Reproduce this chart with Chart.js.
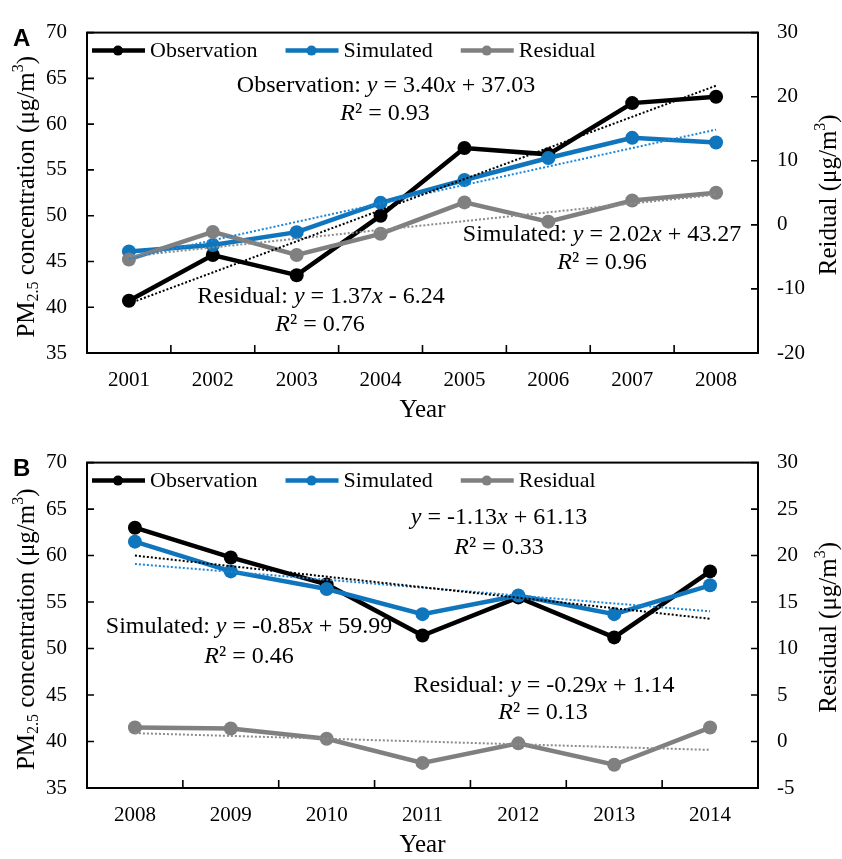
<!DOCTYPE html>
<html>
<head>
<meta charset="utf-8">
<script src="https://cdn.jsdelivr.net/npm/chart.js@4.4.1/dist/chart.umd.min.js"></script>
<style>
  html, body { margin: 0; padding: 0; background: #fff; }
  #wrap { position: relative; width: 842px; height: 859px; }
  canvas { position: absolute; left: 0; }
  #cA { top: 0; }
  #cB { top: 430px; }
</style>
</head>
<body>
<div id="wrap">
  <canvas id="cA" width="842" height="430"></canvas>
  <canvas id="cB" width="842" height="429"></canvas>
</div>
<script>
// ─── Data ───────────────────────────────────────────
const yearsA = ['2001', '2002', '2003', '2004', '2005', '2006', '2007', '2008'];
const obsA = [40.7, 45.7, 43.5, 50.0, 57.4, 56.7, 62.3, 63.0];
const simA = [46.1, 46.8, 48.2, 51.4, 53.9, 56.3, 58.5, 58.0];
const resA = [-5.4, -1.1, -4.7, -1.4, 3.5, 0.5, 3.8, 5.0];
// trendline values at first / last year
const obsTrendA = [40.4, 64.2];
const simTrendA = [45.3, 59.4];
const resTrendA = [-4.9, 4.7];

const yearsB = ['2008', '2009', '2010', '2011', '2012', '2013', '2014'];
const obsB = [63.0, 59.8, 56.9, 51.4, 55.5, 51.2, 58.3];
const simB = [61.5, 58.3, 56.4, 53.7, 55.7, 53.7, 56.8];
const resB = [1.5, 1.4, 0.3, -2.3, -0.2, -2.5, 1.5];
const obsTrendB = [60.0, 53.2];
const simTrendB = [59.1, 54.0];
const resTrendB = [0.9, -0.9];

const leftTicks = { min: 35, max: 70, step: 5 };
const rightTicksA = { min: -20, max: 30, step: 10 };
const rightTicksB = { min: -5, max: 30, step: 5 };

// ─── Style ──────────────────────────────────────────
const SERIF = '"Liberation Serif", "Times New Roman", serif';
const C_OBS = '#000000';
const C_SIM = '#0f75bc';
const C_RES = '#808080';

// ─── Helpers ────────────────────────────────────────
function trendData(n, ends) {
  const d = new Array(n).fill(null);
  d[0] = ends[0];
  d[n - 1] = ends[1];
  return d;
}

function partFont(p, size) {
  const s = (p.sub || p.sup) ? Math.round(size * 0.65) : size;
  return (p.i ? 'italic ' : '') + s + 'px ' + SERIF;
}

// draw text made of parts (italic / sub / sup), centred on cx, cy
function drawRich(ctx, parts, cx, cy, size, rot) {
  let total = 0;
  parts.forEach(p => { ctx.font = partFont(p, size); p.w = ctx.measureText(p.t).width; total += p.w; });
  ctx.save();
  ctx.translate(cx, cy);
  if (rot) ctx.rotate(rot);
  ctx.textAlign = 'left';
  ctx.textBaseline = 'middle';
  ctx.fillStyle = '#000';
  let x = -total / 2;
  parts.forEach(p => {
    ctx.font = partFont(p, size);
    const dy = p.sub ? size * 0.28 : p.sup ? -size * 0.32 : 0;
    ctx.fillText(p.t, x, dy);
    x += p.w;
  });
  ctx.restore();
}

const eq = (label, slope, icpt) => [
  { t: label }, { t: 'y', i: true }, { t: ' = ' + slope }, { t: 'x', i: true }, { t: ' ' + icpt }
];
const r2 = v => [{ t: 'R', i: true }, { t: '\u00b2 = ' + v }];

// ─── Panel plugin: box, inner ticks, legend, titles, notes ──
const panelPlugin = {
  id: 'panel',
  afterDraw(chart, args, o) {
    const ctx = chart.ctx;
    const a = chart.chartArea;
    const sx = chart.scales.x, sy = chart.scales.y, sy2 = chart.scales.y2;
    ctx.save();
    ctx.strokeStyle = '#000';
    ctx.lineWidth = 2;
    ctx.strokeRect(a.left, a.top, a.right - a.left, a.bottom - a.top);
    ctx.lineWidth = 1.6;
    ctx.beginPath();
    const n = chart.data.labels.length;
    for (let i = 1; i < n; i++) {
      const x = (sx.getPixelForValue(i - 1) + sx.getPixelForValue(i)) / 2;
      ctx.moveTo(x, a.bottom); ctx.lineTo(x, a.bottom - 8);
    }
    sy.ticks.forEach(t => {
      const y = sy.getPixelForValue(t.value);
      ctx.moveTo(a.left, y); ctx.lineTo(a.left + 7, y);
    });
    sy2.ticks.forEach(t => {
      const y = sy2.getPixelForValue(t.value);
      ctx.moveTo(a.right, y); ctx.lineTo(a.right - 7, y);
    });
    ctx.stroke();

    // legend
    let lx = a.left + 5;
    const ly = a.top + 18;
    ctx.font = '22px ' + SERIF;
    ctx.textBaseline = 'middle';
    ctx.textAlign = 'left';
    chart.data.datasets.slice(0, 3).forEach(ds => {
      ctx.strokeStyle = ds.borderColor;
      ctx.lineWidth = 4.5;
      ctx.beginPath(); ctx.moveTo(lx, ly); ctx.lineTo(lx + 53, ly); ctx.stroke();
      ctx.fillStyle = ds.borderColor;
      ctx.beginPath(); ctx.arc(lx + 26, ly, 5, 0, Math.PI * 2); ctx.fill();
      ctx.fillStyle = '#000';
      ctx.fillText(ds.label, lx + 58, ly + 1);
      lx += 58 + ctx.measureText(ds.label).width + 28;
    });
    ctx.restore();

    // panel letter
    ctx.save();
    ctx.font = 'bold 24px "Liberation Sans", Arial, sans-serif';
    ctx.fillStyle = '#000';
    ctx.textBaseline = 'alphabetic';
    ctx.fillText(o.letter, 13, a.top + 13);
    ctx.restore();

    // axis titles
    const midY = (a.top + a.bottom) / 2;
    drawRich(ctx, [{ t: 'PM' }, { t: '2.5', sub: true }, { t: ' concentration (\u03bcg/m' }, { t: '3', sup: true }, { t: ')' }],
      27, midY + 4, 25, -Math.PI / 2);
    drawRich(ctx, [{ t: o.rightTitle + ' (\u03bcg/m' }, { t: '3', sup: true }, { t: ')' }],
      829, midY + 2, 25, -Math.PI / 2);
    drawRich(ctx, [{ t: 'Year' }], (a.left + a.right) / 2, a.bottom + 57, 25);

    // regression notes
    o.notes.forEach(nt => drawRich(ctx, nt.parts, nt.x, nt.y, 24));
  }
};

function makeChart(id, cfg) {
  const n = cfg.labels.length;
  const line = (label, data, color, axis, order) => ({
    label, data, yAxisID: axis, order,
    borderColor: color, backgroundColor: color,
    borderWidth: 4.5, pointRadius: 7, pointBorderWidth: 0,
    pointBackgroundColor: color, tension: 0
  });
  const trend = (label, ends, color, axis) => ({
    label, data: trendData(n, ends), yAxisID: axis, order: 0, spanGaps: true,
    borderColor: color, borderWidth: 2, borderDash: [2, 2], pointRadius: 0
  });
  return new Chart(document.getElementById(id), {
    type: 'line',
    data: {
      labels: cfg.labels,
      datasets: [
        line('Observation', cfg.obs, C_OBS, 'y', 3),
        line('Simulated', cfg.sim, C_SIM, 'y', 2),
        line('Residual', cfg.res, C_RES, 'y2', 1),
        trend('obs trend', cfg.obsTrend, '#000', 'y'),
        trend('sim trend', cfg.simTrend, '#1d86d8', 'y'),
        trend('res trend', cfg.resTrend, '#8c8c8c', 'y2')
      ]
    },
    options: {
      responsive: false,
      animation: false,
      layout: { padding: { top: cfg.top, left: 0, right: 0, bottom: 0 } },
      plugins: {
        legend: { display: false },
        tooltip: { enabled: false },
        panel: { letter: cfg.letter, rightTitle: cfg.rightTitle, notes: cfg.notes }
      },
      scales: {
        x: {
          offset: true,
          grid: { display: false, drawTicks: false },
          border: { display: false },
          ticks: { color: '#000', padding: 15, font: { family: SERIF, size: 21 }, maxRotation: 0 },
          afterFit: s => { s.height = cfg.xh; }
        },
        y: {
          position: 'left',
          min: leftTicks.min, max: leftTicks.max,
          grid: { display: false, drawTicks: false },
          border: { display: false },
          ticks: { stepSize: leftTicks.step, color: '#000', padding: 20, font: { family: SERIF, size: 21 } },
          afterFit: s => { s.width = 87; }
        },
        y2: {
          position: 'right',
          min: cfg.right.min, max: cfg.right.max,
          grid: { display: false, drawTicks: false },
          border: { display: false },
          ticks: { stepSize: cfg.right.step, color: '#000', padding: 19, font: { family: SERIF, size: 21 } },
          afterFit: s => { s.width = 84; }
        }
      }
    },
    plugins: [panelPlugin]
  });
}

// ─── Boot ───────────────────────────────────────────
makeChart('cA', {
  labels: yearsA, obs: obsA, sim: simA, res: resA,
  obsTrend: obsTrendA, simTrend: simTrendA, resTrend: resTrendA,
  right: rightTicksA, top: 14, xh: 77, letter: 'A', rightTitle: 'Reidual',
  notes: [
    { parts: eq('Observation: ', '3.40', '+ 37.03'), x: 386, y: 86 },
    { parts: r2('0.93'), x: 385, y: 114 },
    { parts: eq('Simulated: ', '2.02', '+ 43.27'), x: 602, y: 235 },
    { parts: r2('0.96'), x: 602, y: 263 },
    { parts: eq('Residual: ', '1.37', '- 6.24'), x: 321, y: 297 },
    { parts: r2('0.76'), x: 320, y: 325 }
  ]
});

makeChart('cB', {
  labels: yearsB, obs: obsB, sim: simB, res: resB,
  obsTrend: obsTrendB, simTrend: simTrendB, resTrend: resTrendB,
  right: rightTicksB, top: 19, xh: 71, letter: 'B', rightTitle: 'Residual',
  notes: [
    { parts: eq('', '-1.13', '+ 61.13'), x: 499, y: 88 },
    { parts: r2('0.33'), x: 499, y: 118 },
    { parts: eq('Simulated: ', '-0.85', '+ 59.99'), x: 249, y: 197 },
    { parts: r2('0.46'), x: 249, y: 227 },
    { parts: eq('Residual: ', '-0.29', '+ 1.14'), x: 544, y: 256 },
    { parts: r2('0.13'), x: 543, y: 283 }
  ]
});
</script>
</body>
</html>
